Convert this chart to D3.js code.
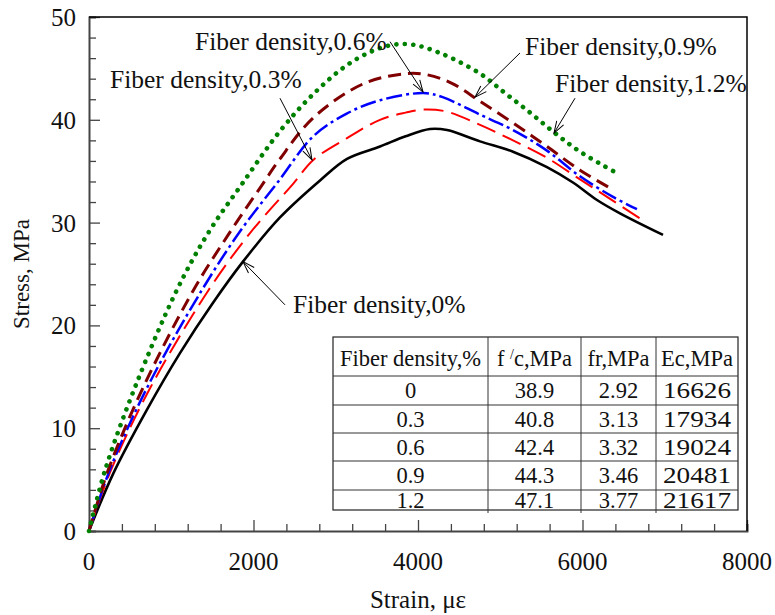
<!DOCTYPE html>
<html>
<head>
<meta charset="utf-8">
<script src="https://cdn.jsdelivr.net/npm/d3@7"></script>
<style>
  body { margin: 0; background: #fff; }
  text { font-family: "Liberation Serif", "Times New Roman", serif; fill: #111; }
</style>
</head>
<body>
<div id="d3-container"></div>
<script>
/* CONSTANTS AND GLOBALS */
const width = 775,
  height = 615,
  margin = { top: 17, bottom: 84, left: 89, right: 28 };

/* DATA */
// stress-strain curves (strain in με, stress in MPa)
const strain_0 = [0, 296, 705, 1106, 1508, 1872, 2322, 2809, 3137, 3538, 3850, 4146, 4353, 4754, 5155, 5568, 5884, 6176, 6456, 6979];
const stress_0 = [0, 5.6, 11.8, 17.3, 22.2, 26.2, 30.5, 34.1, 36.2, 37.4, 38.4, 39.1, 39.0, 37.9, 36.9, 35.4, 33.9, 32.2, 30.9, 28.8];

const strain_03 = [0, 266, 750, 1451, 1960, 2484, 2727, 3133, 3538, 3850, 4065, 4349, 4754, 5155, 5568, 5970, 6298, 6699];
const stress_03 = [0, 5.9, 14.0, 23.4, 29.0, 33.8, 36.1, 38.2, 40.0, 40.7, 41.0, 40.8, 39.5, 38.0, 36.3, 34.2, 32.5, 30.4];

const strain_06 = [0, 251, 710, 1370, 1850, 2302, 2727, 3133, 3538, 4065, 4300, 4754, 5155, 5568, 5970, 6371, 6662];
const stress_06 = [0, 5.9, 14.0, 23.4, 29.3, 34.0, 38.4, 40.6, 41.9, 42.6, 42.2, 40.5, 39.0, 37.0, 34.5, 32.5, 31.3];

const strain_09 = [0, 232, 660, 1268, 1700, 2099, 2322, 2727, 3335, 3862, 4100, 4400, 4754, 5155, 5568, 5970, 6371];
const stress_09 = [0, 5.9, 14.0, 23.4, 28.9, 33.6, 36.2, 40.2, 43.5, 44.5, 44.4, 43.6, 41.8, 39.7, 37.4, 35.1, 33.2];

const strain_12 = [0, 195, 560, 1066, 1450, 1864, 2322, 2727, 3133, 3450, 3700, 3943, 4267, 4754, 5058, 5362, 5666, 5970, 6375];
const stress_12 = [0, 5.9, 14.0, 23.4, 29.0, 33.8, 38.9, 42.5, 45.3, 46.7, 47.3, 47.3, 46.5, 44.5, 42.6, 40.7, 38.7, 36.9, 35.0];

// table values
const tableHeader = ["Fiber density,%", "f /c,MPa", "fr,MPa", "Ec,MPa"];
const fiberDensity = ["0", "0.3", "0.6", "0.9", "1.2"];
const fcValues = ["38.9", "40.8", "42.4", "44.3", "47.1"];
const frValues = ["2.92", "3.13", "3.32", "3.46", "3.77"];
const ecValues = ["16626", "17934", "19024", "20481", "21617"];

// annotations: label anchor and arrow (tail -> tip) in data units
const annoLabels = ["Fiber density,0.6%", "Fiber density,0.3%", "Fiber density,0.9%", "Fiber density,1.2%", "Fiber density,0%"];
const annoTextPos = [[1289, 46.8], [255, 43.1], [5301, 46.3], [5666, 42.7], [2480, 21.2]];
const annoTail = [[3660, 47.6], [2322, 42.1], [5240, 46.5], [5909, 42.1], [2383, 22.0]];
const annoTip = [[4061, 42.7], [2711, 36.1], [4693, 42.2], [5653, 38.7], [1872, 26.2]];

// line styles (not data)
const series = [
  { x: strain_0, y: stress_0, color: "#000000", dash: null, w: 2.6, cap: "butt" },
  { x: strain_03, y: stress_03, color: "#ff0000", dash: "20 8", w: 2, cap: "butt" },
  { x: strain_06, y: stress_06, color: "#0000ff", dash: "16 4 3 4", w: 2.5, cap: "butt" },
  { x: strain_09, y: stress_09, color: "#800000", dash: "13 7", w: 3, cap: "butt" },
  { x: strain_12, y: stress_12, color: "#008000", dash: "0.1 8.4", w: 4.6, cap: "round" }
];

/* SCALES */
const xScale = d3.scaleLinear().domain([0, 8000]).range([margin.left, width - margin.right]);
const yScale = d3.scaleLinear().domain([0, 50]).range([height - margin.bottom, margin.top]);

/* SVG */
const svg = d3.select("#d3-container")
  .append("svg")
  .attr("width", width)
  .attr("height", height);

// arrow head (open V)
svg.append("defs").append("marker")
  .attr("id", "arrow")
  .attr("markerUnits", "userSpaceOnUse")
  .attr("viewBox", "-14 -6 16 12")
  .attr("refX", 0).attr("refY", 0)
  .attr("markerWidth", 16).attr("markerHeight", 12)
  .attr("orient", "auto")
  .append("path")
  .attr("d", "M-12,-4 L0,0 L-12,4")
  .attr("fill", "none")
  .attr("stroke", "#000")
  .attr("stroke-width", 1);

// + AXES (ticks inside)
const xAxis = d3.axisBottom(xScale).tickValues(d3.range(0, 8001, 400)).tickSize(-7).tickFormat("");
const yAxis = d3.axisLeft(yScale).tickValues(d3.range(0, 51, 2)).tickSize(-7).tickFormat("");

const gx = svg.append("g")
  .attr("transform", `translate(0,${yScale(0)})`)
  .call(xAxis);
gx.selectAll(".tick line").attr("y2", d => d % 2000 === 0 ? -11 : -7);

const gy = svg.append("g")
  .attr("transform", `translate(${xScale(0)},0)`)
  .call(yAxis);
gy.selectAll(".tick line").attr("x2", d => d % 10 === 0 ? 11 : 7);

svg.selectAll(".domain").attr("stroke", "#444").attr("stroke-width", 2);
svg.selectAll(".tick line").attr("stroke", "#444").attr("stroke-width", 1.3);

// top / right frame
svg.append("path")
  .attr("d", `M${xScale(0)},${yScale(50)} H${xScale(8000)} V${yScale(0)}`)
  .attr("fill", "none")
  .attr("stroke", "#000")
  .attr("stroke-width", 1.5);

// tick labels
svg.append("g").selectAll("text")
  .data(d3.range(0, 8001, 2000))
  .join("text")
  .attr("x", d => xScale(d))
  .attr("y", yScale(0) + 39)
  .attr("text-anchor", "middle")
  .attr("font-size", 25)
  .text(d => d);

svg.append("g").selectAll("text")
  .data(d3.range(0, 51, 10))
  .join("text")
  .attr("x", xScale(0) - 13)
  .attr("y", d => yScale(d) + 9)
  .attr("text-anchor", "end")
  .attr("font-size", 25)
  .text(d => d);

// axis titles
svg.append("text")
  .attr("x", xScale(4000))
  .attr("y", 608)
  .attr("text-anchor", "middle")
  .attr("font-size", 25)
  .text("Strain, με");

svg.append("text")
  .attr("transform", `translate(29,${yScale(25)}) rotate(-90)`)
  .attr("text-anchor", "middle")
  .attr("font-size", 23)
  .text("Stress, MPa");

/* CURVES */
const line = d3.line()
  .x(d => xScale(d[0]))
  .y(d => yScale(d[1]))
  .curve(d3.curveCatmullRom.alpha(0.5));

svg.append("g").selectAll("path")
  .data(series)
  .join("path")
  .attr("d", s => line(s.x.map((v, i) => [v, s.y[i]])))
  .attr("fill", "none")
  .attr("stroke", s => s.color)
  .attr("stroke-width", s => s.w)
  .attr("stroke-linecap", s => s.cap)
  .attr("stroke-dasharray", s => s.dash);

/* ANNOTATIONS */
const anno = svg.append("g");
anno.selectAll("line")
  .data(annoLabels)
  .join("line")
  .attr("x1", (d, i) => xScale(annoTail[i][0]))
  .attr("y1", (d, i) => yScale(annoTail[i][1]))
  .attr("x2", (d, i) => xScale(annoTip[i][0]))
  .attr("y2", (d, i) => yScale(annoTip[i][1]))
  .attr("stroke", "#000")
  .attr("stroke-width", 1)
  .attr("marker-end", "url(#arrow)");

anno.selectAll("text")
  .data(annoLabels)
  .join("text")
  .attr("x", (d, i) => xScale(annoTextPos[i][0]))
  .attr("y", (d, i) => yScale(annoTextPos[i][1]))
  .attr("font-size", 25.5)
  .text(d => d);

/* TABLE */
const tLeft = 333, tRight = 738, tTop = 337, tBottom = 510;
const colX = [tLeft, 488, 581, 656, tRight];
const rowY = [tTop, 376, 405, 433, 461, 490, tBottom];
const fontT = 22.5;

const table = svg.append("g");
table.append("rect")
  .attr("x", tLeft).attr("y", tTop)
  .attr("width", tRight - tLeft).attr("height", tBottom - tTop)
  .attr("fill", "#fff")
  .attr("stroke", "#222")
  .attr("stroke-width", 1.2);

table.selectAll(".hline")
  .data(rowY.slice(1, -1))
  .join("line")
  .attr("class", "hline")
  .attr("x1", tLeft).attr("x2", tRight)
  .attr("y1", d => d).attr("y2", d => d)
  .attr("stroke", "#333")
  .attr("stroke-width", 1);

table.selectAll(".vline")
  .data(colX.slice(1, -1))
  .join("line")
  .attr("class", "vline")
  .attr("x1", d => d).attr("x2", d => d)
  .attr("y1", tTop).attr("y2", tBottom + 3)
  .attr("stroke", "#333")
  .attr("stroke-width", 1);

// header
const headerCells = table.selectAll(".head")
  .data(tableHeader)
  .join("text")
  .attr("class", "head")
  .attr("x", (d, i) => (colX[i] + colX[i + 1]) / 2)
  .attr("y", 366)
  .attr("text-anchor", "middle")
  .attr("font-size", fontT);

headerCells.each(function(d, i) {
  const t = d3.select(this);
  if (i === 1) {
    t.append("tspan").text("f ");
    t.append("tspan").attr("font-size", 14).attr("baseline-shift", "7").text("/");
    t.append("tspan").text("c,MPa");
  } else {
    t.text(d);
  }
  if (i === 3) t.attr("textLength", 72).attr("lengthAdjust", "spacingAndGlyphs");
});

// body rows
const rows = fiberDensity.map((d, i) => [d, fcValues[i], frValues[i], ecValues[i]]);
rows.forEach((row, r) => {
  table.selectAll(`.row${r}`)
    .data(row)
    .join("text")
    .attr("class", `row${r}`)
    .attr("x", (d, i) => (colX[i] + colX[i + 1]) / 2)
    .attr("y", Math.min(rowY[r + 1] + 22, tBottom - 2))
    .attr("text-anchor", "middle")
    .attr("font-size", fontT)
    .attr("textLength", (d, i) => i === 3 ? 68 : null)
    .attr("lengthAdjust", (d, i) => i === 3 ? "spacingAndGlyphs" : null)
    .text(d => d);
});
</script>
</body>
</html>
